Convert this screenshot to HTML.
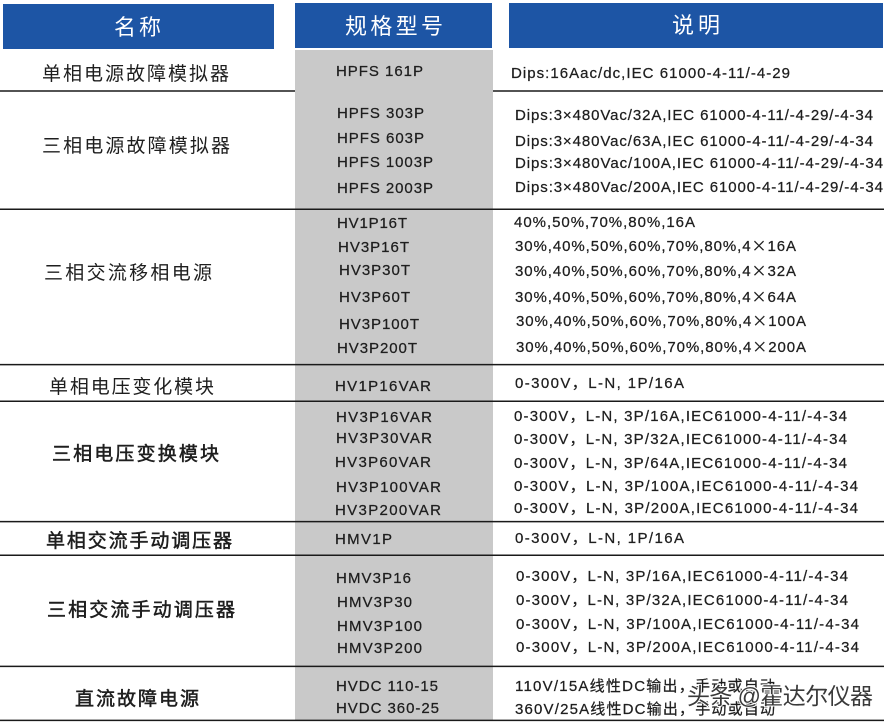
<!DOCTYPE html>
<html>
<head>
<meta charset="utf-8">
<style>
html,body{margin:0;padding:0;background:#fff;}
svg{display:block;}
.lat{font-family:"Liberation Sans","Noto Sans CJK SC",sans-serif;font-size:15px;fill:#1e1e1e;stroke:#1e1e1e;stroke-width:0.25px;}
.cjk{font-family:"Liberation Sans","Noto Sans CJK SC",sans-serif;font-size:19px;fill:#1e1e1e;}
.cjkb{stroke:#1e1e1e;stroke-width:0.5px;}
.hd{font-family:"Liberation Sans","Noto Sans CJK SC",sans-serif;font-size:22px;fill:#fff;}
.wm{font-family:"Liberation Sans","Noto Sans CJK SC",sans-serif;font-size:23px;fill:#3a3a3a;stroke:#fff;stroke-width:2px;paint-order:stroke;}
.big{font-family:"Noto Sans CJK SC",sans-serif;}
</style>
</head>
<body>
<svg width="891" height="727" viewBox="0 0 891 727" xmlns="http://www.w3.org/2000/svg">
<rect x="0" y="0" width="891" height="727" fill="#fff"/>
<!-- header boxes -->
<rect x="3" y="4" width="271" height="45" fill="#1d55a5"/>
<rect x="295" y="3" width="197" height="45" fill="#1d55a5"/>
<rect x="509" y="3" width="374" height="45" fill="#1d55a5"/>
<!-- gray column -->
<rect x="295" y="50" width="198" height="670" fill="#c9c9c9"/>
<!-- lines -->
<g stroke="#1a1a1a" stroke-width="1.5">
<line x1="0" y1="91" x2="295" y2="91"/>
<line x1="493" y1="91" x2="883" y2="91"/>
<line x1="0" y1="209.3" x2="884" y2="209.3"/>
<line x1="0" y1="364.6" x2="884" y2="364.6"/>
<line x1="0" y1="401.3" x2="884" y2="401.3"/>
<line x1="0" y1="521.6" x2="884" y2="521.6"/>
<line x1="0" y1="555.3" x2="884" y2="555.3"/>
<line x1="0" y1="666.4" x2="884" y2="666.4"/>
<line x1="0" y1="720.4" x2="884" y2="720.4"/>
</g>
<!-- headers -->
<text class="hd" x="114" y="35" textLength="47" lengthAdjust="spacing">名称</text>
<text class="hd" x="345" y="34" textLength="98" lengthAdjust="spacing">规格型号</text>
<text class="hd" x="672" y="33" textLength="48" lengthAdjust="spacing">说明</text>
<!-- names -->
<text class="cjk" x="42" y="80" textLength="187" lengthAdjust="spacing">单相电源故障模拟器</text>
<text class="cjk" x="42" y="152" textLength="188" lengthAdjust="spacing">三相电源故障模拟器</text>
<text class="cjk" x="44" y="279" textLength="168" lengthAdjust="spacing">三相交流移相电源</text>
<text class="cjk" x="49" y="393" textLength="165" lengthAdjust="spacing">单相电压变化模块</text>
<text class="cjk cjkb" x="52" y="460" textLength="167" lengthAdjust="spacing">三相电压变换模块</text>
<text class="cjk cjkb" x="46" y="547" textLength="186" lengthAdjust="spacing">单相交流手动调压器</text>
<text class="cjk cjkb" x="47" y="616" textLength="188" lengthAdjust="spacing">三相交流手动调压器</text>
<text class="cjk cjkb" x="75" y="705" textLength="124" lengthAdjust="spacing">直流故障电源</text>
<!-- models -->
<g class="lat">
<text x="336" y="76" textLength="87" lengthAdjust="spacing">HPFS 161P</text>
<text x="337" y="118" textLength="87" lengthAdjust="spacing">HPFS 303P</text>
<text x="337" y="143" textLength="87" lengthAdjust="spacing">HPFS 603P</text>
<text x="337" y="167" textLength="96" lengthAdjust="spacing">HPFS 1003P</text>
<text x="337" y="193" textLength="96" lengthAdjust="spacing">HPFS 2003P</text>
<text x="337" y="228" textLength="70" lengthAdjust="spacing">HV1P16T</text>
<text x="338" y="252" textLength="71" lengthAdjust="spacing">HV3P16T</text>
<text x="339" y="275" textLength="71" lengthAdjust="spacing">HV3P30T</text>
<text x="339" y="302" textLength="71" lengthAdjust="spacing">HV3P60T</text>
<text x="339" y="329" textLength="80" lengthAdjust="spacing">HV3P100T</text>
<text x="337" y="353" textLength="80" lengthAdjust="spacing">HV3P200T</text>
<text x="335" y="391" textLength="96" lengthAdjust="spacing">HV1P16VAR</text>
<text x="336" y="422" textLength="96" lengthAdjust="spacing">HV3P16VAR</text>
<text x="336" y="443" textLength="96" lengthAdjust="spacing">HV3P30VAR</text>
<text x="335" y="467" textLength="96" lengthAdjust="spacing">HV3P60VAR</text>
<text x="336" y="492" textLength="105" lengthAdjust="spacing">HV3P100VAR</text>
<text x="335" y="515" textLength="106" lengthAdjust="spacing">HV3P200VAR</text>
<text x="335" y="544" textLength="57" lengthAdjust="spacing">HMV1P</text>
<text x="336" y="583" textLength="75" lengthAdjust="spacing">HMV3P16</text>
<text x="337" y="607" textLength="75" lengthAdjust="spacing">HMV3P30</text>
<text x="337" y="631" textLength="85" lengthAdjust="spacing">HMV3P100</text>
<text x="337" y="653" textLength="85" lengthAdjust="spacing">HMV3P200</text>
<text x="336" y="691" textLength="102" lengthAdjust="spacing">HVDC 110-15</text>
<text x="336" y="713" textLength="103" lengthAdjust="spacing">HVDC 360-25</text>
</g>
<!-- descriptions -->
<g class="lat">
<text x="511" y="78" textLength="279" lengthAdjust="spacing">Dips:16Aac/dc,IEC 61000-4-11/-4-29</text>
<text x="515" y="120" textLength="358" lengthAdjust="spacing">Dips:3×480Vac/32A,IEC 61000-4-11/-4-29/-4-34</text>
<text x="515" y="146" textLength="358" lengthAdjust="spacing">Dips:3×480Vac/63A,IEC 61000-4-11/-4-29/-4-34</text>
<text x="515" y="168" textLength="368" lengthAdjust="spacing">Dips:3×480Vac/100A,IEC 61000-4-11/-4-29/-4-34</text>
<text x="515" y="192" textLength="368" lengthAdjust="spacing">Dips:3×480Vac/200A,IEC 61000-4-11/-4-29/-4-34</text>
<text x="514" y="227" textLength="181" lengthAdjust="spacing">40%,50%,70%,80%,16A</text>
<text x="515" y="251" textLength="281" lengthAdjust="spacing">30%,40%,50%,60%,70%,80%,4<tspan class="big">×</tspan>16A</text>
<text x="515" y="276" textLength="281" lengthAdjust="spacing">30%,40%,50%,60%,70%,80%,4<tspan class="big">×</tspan>32A</text>
<text x="515" y="302" textLength="281" lengthAdjust="spacing">30%,40%,50%,60%,70%,80%,4<tspan class="big">×</tspan>64A</text>
<text x="516" y="326" textLength="290" lengthAdjust="spacing">30%,40%,50%,60%,70%,80%,4<tspan class="big">×</tspan>100A</text>
<text x="516" y="352" textLength="290" lengthAdjust="spacing">30%,40%,50%,60%,70%,80%,4<tspan class="big">×</tspan>200A</text>
<text x="515" y="388" textLength="169" lengthAdjust="spacing">0-300V，L-N, 1P/16A</text>
<text x="514" y="421" textLength="333" lengthAdjust="spacing">0-300V，L-N, 3P/16A,IEC61000-4-11/-4-34</text>
<text x="514" y="444" textLength="333" lengthAdjust="spacing">0-300V，L-N, 3P/32A,IEC61000-4-11/-4-34</text>
<text x="514" y="468" textLength="333" lengthAdjust="spacing">0-300V，L-N, 3P/64A,IEC61000-4-11/-4-34</text>
<text x="514" y="491" textLength="344" lengthAdjust="spacing">0-300V，L-N, 3P/100A,IEC61000-4-11/-4-34</text>
<text x="514" y="513" textLength="344" lengthAdjust="spacing">0-300V，L-N, 3P/200A,IEC61000-4-11/-4-34</text>
<text x="515" y="543" textLength="169" lengthAdjust="spacing">0-300V，L-N, 1P/16A</text>
<text x="516" y="581" textLength="332" lengthAdjust="spacing">0-300V，L-N, 3P/16A,IEC61000-4-11/-4-34</text>
<text x="516" y="605" textLength="332" lengthAdjust="spacing">0-300V，L-N, 3P/32A,IEC61000-4-11/-4-34</text>
<text x="516" y="629" textLength="343" lengthAdjust="spacing">0-300V，L-N, 3P/100A,IEC61000-4-11/-4-34</text>
<text x="516" y="652" textLength="343" lengthAdjust="spacing">0-300V，L-N, 3P/200A,IEC61000-4-11/-4-34</text>
<text x="515" y="691" textLength="260" lengthAdjust="spacing">110V/15A线性DC输出，手动或自动</text>
<text x="515" y="714" textLength="260" lengthAdjust="spacing">360V/25A线性DC输出，手动或自动</text>
</g>
<!-- watermark -->
<text class="wm" x="687" y="704" textLength="186" lengthAdjust="spacing">头条 @霍达尔仪器</text>
</svg>
</body>
</html>
